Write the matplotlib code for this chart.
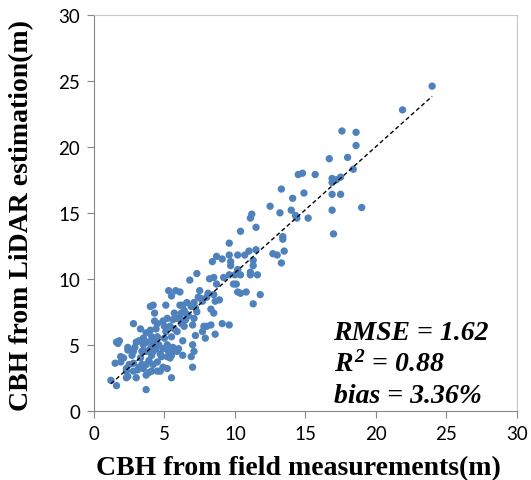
import matplotlib.pyplot as plt
import numpy as np

field_cbh = [
    24.0, 21.9, 17.6, 18.6, 18.6, 18.0, 16.7, 18.4, 15.7, 14.8,
    14.5, 16.9, 16.9, 17.5, 17.2, 16.9, 17.5, 19.0, 16.9, 17.0,
    14.9, 14.1, 13.3, 12.5, 13.2, 14.0, 14.3, 14.4, 15.2, 13.4,
    13.4, 13.5, 13.3, 12.7, 13.0, 11.8, 11.3, 11.5, 11.2, 11.1,
    10.4, 9.6, 11.5, 11.0, 10.7, 10.2, 9.6, 9.1, 8.7, 8.4,
    11.3, 11.3, 11.1, 11.6, 11.1, 9.7, 9.7, 10.2, 10.0, 10.4,
    9.6, 9.2, 8.5, 8.2, 9.9, 10.1, 10.2, 10.4, 10.8, 8.7,
    8.9, 8.6, 8.5, 8.1, 7.3, 6.8, 7.5, 7.4, 7.7, 7.1,
    6.9, 7.3, 7.1, 7.0, 8.3, 8.5, 7.8, 8.0, 8.3, 7.7,
    7.9, 8.6, 9.1, 9.6, 6.1, 5.8, 5.3, 5.5, 6.3, 6.1,
    5.1, 4.2, 4.0, 4.3, 5.7, 6.2, 6.6, 6.1, 6.5, 6.2,
    6.4, 5.6, 5.2, 4.9, 4.3, 2.8, 4.5, 5.0, 5.4, 5.7,
    5.1, 5.9, 5.5, 5.0, 4.0, 4.4, 3.7, 3.3, 6.3, 5.6,
    5.7, 6.3, 7.0, 7.1, 6.9, 7.0, 7.2, 5.4, 5.2, 4.9,
    4.5, 5.5, 3.7, 3.7, 3.0, 2.3, 1.6, 1.2, 1.5, 1.9,
    2.1, 2.4, 2.4, 2.7, 2.9, 3.0, 3.2, 3.5, 1.7, 1.8,
    1.6, 2.3, 2.3, 2.4, 2.8, 2.8, 3.3, 3.4, 3.5, 3.7,
    3.9, 4.1, 4.2, 4.4, 4.6, 4.7, 4.8, 4.0, 3.7, 3.4,
    3.5, 3.8, 4.2, 4.3, 4.5, 4.1, 4.9, 5.2, 5.3, 4.5,
    4.2, 2.8, 2.5, 1.9, 4.7, 4.1, 3.2, 5.2, 5.5, 5.9,
    6.0, 6.6, 6.4, 7.2, 7.6, 8.0, 6.7, 5.9, 3.9, 3.1,
]
lidar_cbh = [
    24.6, 22.8, 21.2, 21.1, 20.1, 19.2, 19.1, 18.3, 17.9, 18.0,
    17.9, 17.6, 17.3, 17.7, 17.5, 16.4, 16.4, 15.4, 15.2, 13.4,
    16.5, 16.1, 16.8, 15.5, 15.0, 15.2, 14.8, 14.6, 14.6, 13.2,
    13.0, 12.1, 11.2, 11.9, 11.8, 8.8, 8.1, 13.9, 14.9, 14.6,
    13.6, 12.7, 12.2, 12.1, 11.8, 11.8, 11.8, 11.5, 11.7, 11.3,
    11.4, 11.0, 10.5, 10.3, 10.3, 11.3, 11.0, 10.7, 10.3, 10.3,
    10.3, 10.1, 10.1, 10.0, 9.6, 9.6, 9.0, 8.9, 9.0, 9.6,
    8.4, 8.3, 8.8, 8.9, 10.4, 9.9, 9.1, 8.6, 8.3, 8.2,
    7.9, 7.5, 7.0, 6.5, 7.7, 7.4, 6.4, 6.4, 6.5, 6.0,
    5.5, 5.8, 6.6, 6.5, 9.0, 9.1, 9.1, 8.7, 8.0, 8.0,
    8.0, 8.0, 7.9, 7.4, 7.4, 7.4, 7.3, 7.0, 6.9, 6.6,
    6.4, 6.9, 7.0, 6.8, 6.8, 6.6, 6.6, 6.4, 6.4, 6.2,
    6.0, 6.0, 5.6, 5.5, 6.1, 6.2, 5.9, 6.2, 5.3, 4.8,
    4.6, 4.2, 5.0, 4.5, 4.1, 3.3, 5.7, 4.0, 3.2, 3.3,
    3.0, 2.5, 1.6, 2.7, 2.5, 2.5, 1.9, 2.3, 3.6, 3.7,
    4.0, 4.6, 4.8, 4.2, 4.8, 5.2, 5.3, 5.5, 5.1, 5.3,
    5.2, 3.2, 3.0, 2.6, 3.0, 3.6, 4.0, 3.5, 3.2, 3.5,
    3.8, 4.2, 4.5, 4.7, 5.0, 4.3, 4.1, 4.7, 4.5, 4.5,
    5.0, 5.2, 5.1, 5.3, 5.6, 5.6, 4.7, 5.0, 4.5, 3.7,
    3.5, 4.5, 3.5, 4.1, 3.0, 3.0, 3.3, 4.1, 4.2, 4.5,
    4.7, 8.2, 7.6, 7.8, 8.5, 8.6, 7.2, 7.0, 2.9, 3.1,
]

stats_lines = ['RMSE = 1.62', r'$R^2$ = 0.88', 'bias = 3.36%']

plt.rcParams['mathtext.fontset'] = 'custom'
plt.rcParams['mathtext.it'] = 'Liberation Serif:italic:bold'
plt.rcParams['mathtext.rm'] = 'Liberation Serif:italic:bold'
plt.rcParams['mathtext.default'] = 'it'

fig = plt.figure(figsize=(5.31, 4.81), dpi=100)
ax = fig.add_axes([0.177, 0.144, 0.796, 0.823])

ax.scatter(field_cbh, lidar_cbh, s=28, color='#4f81bd', edgecolors='none', zorder=2)

# least squares fit line over the measured range
slope, intercept = np.polyfit(field_cbh, lidar_cbh, 1)
xs = np.array([min(field_cbh), max(field_cbh)])
ax.plot(xs, slope * xs + intercept, color='black', linestyle=(0, (3, 2)), linewidth=1, zorder=3)

ax.set_xlim(0, 30)
ax.set_ylim(0, 30)
ax.set_xticks(range(0, 31, 5))
ax.set_yticks(range(0, 31, 5))

for side in ['left', 'bottom']:
    ax.spines[side].set_color('#868686')
for side in ['top', 'right']:
    ax.spines[side].set_color('#c8c8c8')
ax.tick_params(direction='out', length=5, color='#868686', labelsize=13.5,
               labelcolor='black', pad=5)
for lbl in ax.get_xticklabels() + ax.get_yticklabels():
    lbl.set_family('Lato')

ax.set_xlabel('CBH from field measurements(m)', family='Liberation Serif',
              fontweight='bold', fontsize=20, labelpad=10, x=0.483)
ax.set_ylabel('CBH from LiDAR estimation(m)', family='Liberation Serif',
              fontweight='bold', fontsize=20, labelpad=17, y=0.495)

for i, line in enumerate(stats_lines):
    ax.text(17.0, 5.45 - i * 2.38, line, family='Liberation Serif', fontweight='bold',
            fontstyle='italic', fontsize=20, va='baseline', ha='left')

plt.savefig('out.png', dpi=100)
